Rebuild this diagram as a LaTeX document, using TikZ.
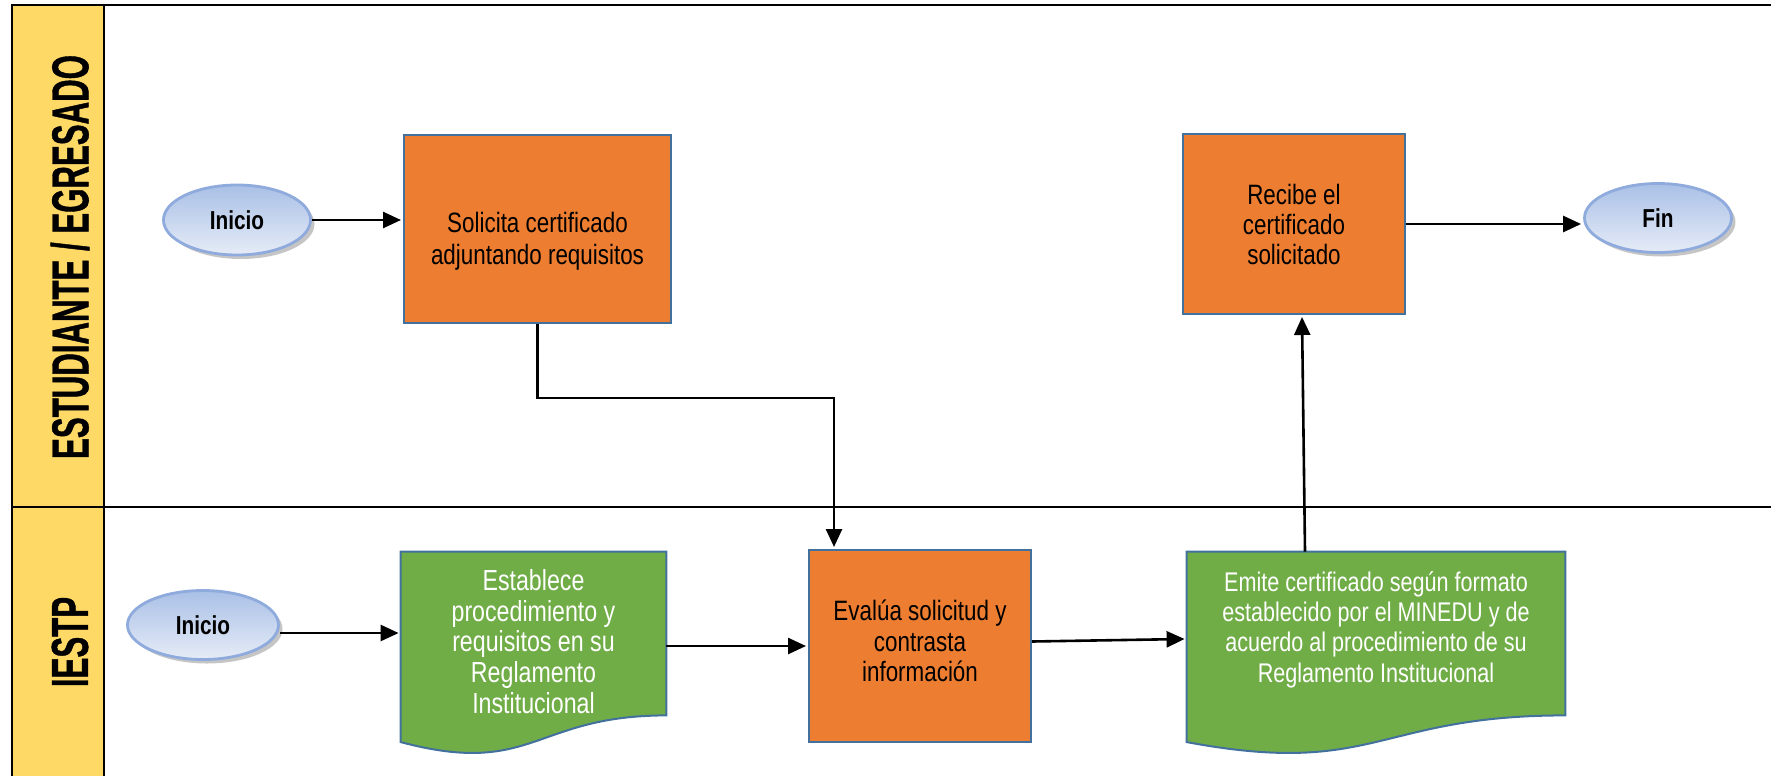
\documentclass[tikz,border=0pt]{standalone}
\usepackage{fontspec}
\setmainfont[FakeStretch=0.8]{Liberation Sans}
\newfontfamily\hdrfont[FakeStretch=0.6,FakeBold=0.8]{Liberation Sans}
\usetikzlibrary{shapes.geometric,arrows.meta,calc,shadows}
\pgfdeclarelayer{bg}
\pgfsetlayers{bg,main}
\definecolor{procorange}{HTML}{ED7D31}
\definecolor{procborder}{HTML}{41719C}
\definecolor{docgreen}{HTML}{70AD47}
\definecolor{laneyellow}{HTML}{FFD966}
\definecolor{termtop}{HTML}{A9C0E6}
\definecolor{termbot}{HTML}{E6ECF7}
\definecolor{termline}{HTML}{8FAADC}
\tikzset{
  procbox/.style={rectangle, fill=procorange, draw=procborder, line width=1pt, inner sep=2pt},
  boxtext/.style={align=center, font=\fontsize{14}{16}\selectfont, inner sep=0pt},
  docbox/.style={rectangle, draw=none, inner sep=2pt},
  doctext/.style={align=center, text=white, inner sep=0pt, font=\fontsize{14}{15.5}\selectfont},
  docline/.style={fill=docgreen, draw=procborder, line width=1pt},
  term/.style={ellipse, draw=termline, line width=1.4pt, top color=termtop, bottom color=termbot,
    drop shadow={shadow xshift=2pt, shadow yshift=-2pt, fill=black!45},
    font=\fontsize{13}{15}\selectfont\bfseries, inner sep=0pt},
  conn/.style={line width=1.3pt, -{Triangle[length=9pt,width=8pt]}},
  laneline/.style={line width=1pt, draw=black},
  lanetitle/.style={rotate=90, font=\hdrfont\bfseries\fontsize{26}{28}\selectfont},
}
\newcommand{\docoutline}[2]{%
  \draw[docline] (#1.north west) -- (#1.north east) -- (#1.south east)
    .. controls ($(#1.south east)!0.5!(#1.south west)$) and ($(#1.south east)!0.5!(#1.south west)+(0,#2)$)
    .. ($(#1.south west)+(0,0.43*#2)$) -- cycle;}
\begin{document}
\begin{tikzpicture}[x=0.5pt,y=-0.5pt]
\useasboundingbox (0,0) rectangle (1771,776);
% lanes
\begin{pgfonlayer}{bg}
  \fill[laneyellow] (12,5) rectangle (104,776);
  \draw[laneline] (1771,5) -- (12,5) -- (12,776);
  \draw[laneline] (104,5) -- (104,776);
  \draw[laneline] (12,507) -- (1771,507);
\end{pgfonlayer}
\node[lanetitle] (lane1) at (70,257) {ESTUDIANTE / EGRESADO};
\node[lanetitle] (lane2) at (70,642) {IESTP};
% top lane
\node[term, minimum width=73.5pt, minimum height=35pt] (ini1) at (237,220) {Inicio};
\node[procbox, minimum width=133.5pt, minimum height=93.75pt,
  label={[boxtext, yshift=-6pt]center:Solicita certificado\\adjuntando requisitos}] (sol) at (537.5,229) {};
\node[procbox, minimum width=111pt, minimum height=90pt,
  label={[boxtext, font=\fontsize{14}{15}\selectfont]center:Recibe el\\certificado\\solicitado}] (rec) at (1294,224) {};
\node[term, minimum width=73.5pt, minimum height=34.5pt] (fin) at (1658,218) {Fin};
% bottom lane
\node[term, minimum width=75.5pt, minimum height=34.5pt] (ini2) at (203,625) {Inicio};
\node[docbox, minimum width=132.5pt, minimum height=81.5pt,
  label={[doctext, yshift=-4pt, font=\fontsize{14.5}{15.4}\selectfont]center:Establece\\procedimiento y\\requisitos en su\\Reglamento\\Institucional}] (est) at (533.5,633.5) {};
\node[procbox, minimum width=111pt, minimum height=96pt,
  label={[boxtext, yshift=2.5pt, font=\fontsize{14}{15.2}\selectfont]center:Evalúa solicitud y\\contrasta\\información}] (eva) at (920,646) {};
\node[docbox, minimum width=189pt, minimum height=81.5pt,
  label={[doctext, yshift=2pt, font=\fontsize{13.5}{15.2}\selectfont]center:Emite certificado según formato\\establecido por el MINEDU y de\\acuerdo al procedimiento de su\\Reglamento Institucional}] (emi) at (1376,633.5) {};
\begin{pgfonlayer}{bg}
  \docoutline{est}{62}
  \docoutline{emi}{62}
\end{pgfonlayer}
% connectors
\coordinate (j1) at (834,398);
\draw[conn] (ini1.east) -- ([xshift=-1pt]ini1.east -| sol.west);
\draw[conn] (sol.south) |- (j1) -- ([yshift=1pt]j1 |- eva.north);
\draw[conn] ([yshift=-4pt]ini2.east) -- ([yshift=-4pt,xshift=-1pt]ini2.east -| est.west);
\draw[conn] (eva.west -| est.east) -- ([xshift=-1pt]eva.west);
\draw[conn] ([yshift=2.25pt]eva.east) -- ([yshift=-2.75pt,xshift=-1pt]emi.west);
\draw[conn] ([xshift=5.5pt]rec.south |- emi.north) -- ([xshift=4pt,yshift=-1pt]rec.south);
\draw[conn] (rec.east) -- ([xshift=-1pt]rec.east -| fin.west);
\end{tikzpicture}
\end{document}
